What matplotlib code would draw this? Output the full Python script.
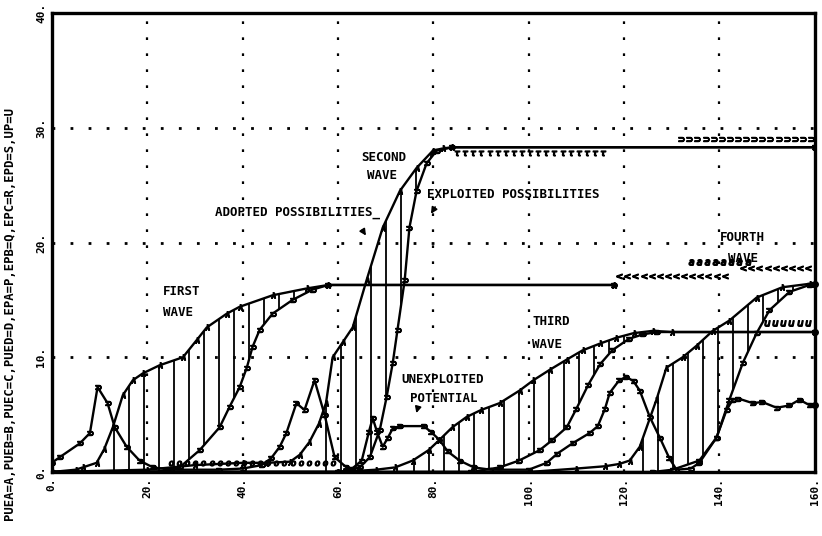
import numpy as np
import matplotlib
matplotlib.use("Agg")
import matplotlib.pyplot as plt

# time axis 0..160, value axis 0..40
# wave 1
pue_a_t = [0, 5, 6.5, 9.4, 11, 12.8, 14.9, 17, 19.1, 22.6, 27.5, 30.4, 32.5, 36.7, 39.4, 46.3, 53.5, 58, 118]
pue_a_v = [0, 0.2, 0.4, 0.8, 2.0, 3.9, 6.7, 8.0, 8.6, 9.3, 10.0, 11.5, 12.6, 13.8, 14.4, 15.4, 16.0, 16.3, 16.3]
ep_a_t = [0, 20, 24, 26.8, 31, 35.2, 37.3, 39.4, 40.9, 42.1, 43.6, 46.3, 50.5, 54.7, 58, 118]
ep_a_v = [0, 0, 0.1, 0.4, 1.9, 3.9, 5.7, 7.4, 9.1, 10.9, 12.4, 13.8, 15.0, 15.9, 16.3, 16.3]

# wave 2
pue_b_t = [0, 20, 30, 40, 45, 50, 52, 54, 56, 57.5, 58.9, 61, 63.1, 66, 69.4, 73, 76.5, 79.9, 82, 84, 160]
pue_b_v = [0, 0.2, 0.6, 0.8, 0.8, 0.9, 1.5, 2.6, 4.2, 6.0, 10.0, 11.3, 12.6, 16.7, 21.3, 24.5, 26.5, 28.0, 28.2, 28.3, 28.3]
ep_b_t = [0, 60, 63, 64.6, 66.7, 68.8, 70.2, 71.5, 72.5, 74, 75, 76.5, 78.6, 80.7, 84, 160]
ep_b_v = [0, 0, 0.2, 0.4, 1.3, 3.7, 6.5, 9.5, 12.4, 16.7, 21.3, 24.5, 26.9, 28.0, 28.3, 28.3]

# wave 3
pue_c_t = [0, 60, 68, 72, 75.7, 79, 81.3, 84, 87, 90, 93.9, 98.1, 101, 104.4, 108, 111.3, 115, 118.4, 122, 126, 130, 160]
pue_c_v = [0, 0, 0.2, 0.4, 1.0, 1.9, 2.8, 3.9, 4.8, 5.4, 6.0, 7.1, 8.0, 8.9, 9.8, 10.6, 11.2, 11.7, 12.1, 12.3, 12.2, 12.2]
ep_c_t = [0, 88, 93.9, 98, 102.3, 105, 108, 110, 112.5, 115, 117.5, 121, 124, 127, 160]
ep_c_v = [0, 0, 0.4, 1.0, 1.9, 2.8, 3.9, 5.5, 7.6, 9.4, 10.6, 11.6, 12.0, 12.2, 12.2]

# wave 4
pue_d_t = [0, 100, 110, 116, 119, 121.2, 123.3, 126.8, 128.9, 132.3, 135.2, 138.6, 142.1, 147.8, 153.2, 158.9, 160]
pue_d_v = [0, 0, 0.3, 0.5, 0.7, 1.0, 2.2, 6.3, 9.1, 10.0, 11.0, 12.3, 13.2, 15.2, 16.1, 16.4, 16.4]
ep_d_t = [0, 126, 130.2, 135.8, 139.4, 142.1, 144.9, 147.8, 150.5, 154.7, 158.9, 160]
ep_d_v = [0, 0, 0.2, 1.0, 3.0, 6.3, 9.5, 12.1, 14.1, 15.7, 16.3, 16.4]

# unexploited potential
up_t = [0, 1.7, 5.9, 8, 9.6, 11.7, 13.2, 15.7, 18.4, 21.2, 25, 35, 40, 44, 46, 47.8, 49.2, 51.3, 53, 55.1, 57.2,
        59.3, 61.8, 63, 65, 66.5, 67.3, 68.2, 69.4, 70.5, 71.5, 73, 78, 79.5, 81.3, 83, 85.5, 88.5, 92, 100,
        103.8, 106, 109.2, 112.8, 114.5, 116, 117, 119, 120.5, 122, 123.3, 125.4, 127.5, 129.5, 131, 134,
        135.8, 139.4, 141.5, 142.8, 144, 147, 149, 152, 154.7, 156.8, 159, 160]
up_v = [0.8, 1.3, 2.5, 3.4, 7.4, 6.0, 3.9, 2.2, 1.0, 0.4, 0.2, 0.2, 0.3, 0.6, 1.2, 2.2, 3.4, 6.0, 5.4, 8.0, 5.0,
        1.3, 0.4, 0.3, 1.0, 3.5, 4.7, 3.5, 2.2, 3.0, 3.8, 4.0, 4.0, 3.5, 2.8, 1.8, 1.0, 0.4, 0.2, 0.2,
        0.8, 1.6, 2.5, 3.4, 4.0, 5.5, 6.9, 8.0, 8.3, 7.9, 7.1, 4.8, 3.0, 1.2, 0.2, 0.3,
        0.8, 3.0, 5.4, 6.3, 6.4, 6.0, 6.1, 5.6, 5.8, 6.3, 5.8, 5.8]

# hatch ranges (start, end) for each wave
hatch_ranges = [(13, 57), (57.5, 83), (76, 127), (124, 158)]
hatch_step = 3.15

x_ticks = [0, 20, 40, 60, 80, 100, 120, 140, 160]
x_labels = ["0.", "20.", "40.", "60.", "80.", "100.", "120.", "140.", "160."]
y_ticks = [0, 10, 20, 30, 40]
y_labels = ["0.", "10.", "20.", "30.", "40."]

mono = "DejaVu Sans Mono"

fig = plt.figure(figsize=(8.22, 5.36), dpi=100)
ax = fig.add_axes([0.063, 0.1194, 0.9282, 0.8563])
ax.set_xlim(0, 160)
ax.set_ylim(0, 40)

# dotted grid
for gx in x_ticks[1:-1]:
    ax.axvline(gx, color="black", lw=1.6, ls=(0, (1.2, 6)), zorder=1)
for gy in y_ticks[1:-1]:
    ax.axhline(gy, color="black", lw=2.0, ls=(0, (1, 5.5)), zorder=1)

waves = [(pue_a_t, pue_a_v, ep_a_t, ep_a_v),
         (pue_b_t, pue_b_v, ep_b_t, ep_b_v),
         (pue_c_t, pue_c_v, ep_c_t, ep_c_v),
         (pue_d_t, pue_d_v, ep_d_t, ep_d_v)]

for (pt, pv, et, ev), (h0, h1) in zip(waves, hatch_ranges):
    ax.plot(pt, pv, color="black", lw=1.7, zorder=3)
    ax.plot(et, ev, color="black", lw=1.7, zorder=3)
    ax.plot(pt, pv, ls="none", marker=r"$\lambda$", ms=4, color="black", zorder=4)
    ax.plot(et, ev, ls="none", marker=r"$\supset$", ms=4, color="black", zorder=4)
    ht = np.arange(h0, h1, hatch_step)
    top = np.interp(ht, pt, pv)
    bot = np.interp(ht, et, ev)
    ax.vlines(ht, np.minimum(top, bot), np.maximum(top, bot), color="black", lw=1.3, zorder=2)

ax.plot(up_t, up_v, color="black", lw=1.7, zorder=3)
ax.plot(up_t, up_v, ls="none", marker=r"$\supset$", ms=4, color="black", zorder=4)

# character rows printed past the end of lines
row1_t = np.arange(119, 142, 1.7)
ax.plot(row1_t, np.full(len(row1_t), 17.1), ls="none", marker=r"$<$", ms=4, color="black")
row2_t = np.arange(145, 160, 1.7)
ax.plot(row2_t, np.full(len(row2_t), 17.8), ls="none", marker=r"$<$", ms=4, color="black")
row3_t = np.arange(134, 146, 1.7)
ax.plot(row3_t, np.full(len(row3_t), 18.3), ls="none", marker=r"$a$", ms=4, color="black")
row4_t = np.arange(132, 160, 1.7)
ax.plot(row4_t, np.full(len(row4_t), 29.0), ls="none", marker=r"$\supset$", ms=4, color="black")
row5_t = np.arange(85, 116, 1.7)
ax.plot(row5_t, np.full(len(row5_t), 27.8), ls="none", marker=r"$\tau$", ms=3.5, color="black")
row6_t = np.arange(150, 160, 1.7)
ax.plot(row6_t, np.full(len(row6_t), 13.0), ls="none", marker=r"$u$", ms=4, color="black")
row7_t = np.arange(25, 60, 1.7)
ax.plot(row7_t, np.full(len(row7_t), 0.8), ls="none", marker=r"$o$", ms=3.5, color="black")

# end dots on right edge
for yv in [pue_d_v[-1], pue_c_v[-1], up_v[-1]]:
    ax.plot([160], [yv], "o", color="black", ms=4, clip_on=False, zorder=5)

# annotations
tk = dict(fontfamily=mono, fontweight="bold", fontsize=9, color="black", va="center", ha="left")
ax.text(23.3, 15.7, "FIRST", **tk)
ax.text(23.3, 13.9, "WAVE", **tk)
ax.text(65.0, 27.4, "SECOND", **tk)
ax.text(66.2, 25.8, "WAVE", **tk)
ax.text(34.2, 22.6, "ADOPTED POSSIBILITIES_", **tk)
ax.text(78.6, 24.2, "EXPLOITED POSSIBILITIES", **tk)
ax.text(73.4, 8.1, "UNEXPLOITED", **tk)
ax.text(75.1, 6.4, "POTENTIAL", **tk)
ax.text(100.8, 13.1, "THIRD", **tk)
ax.text(100.8, 11.1, "WAVE", **tk)
ax.text(140.0, 20.4, "FOURTH", **tk)
ax.text(141.7, 18.6, "WAVE", **tk)

arr = dict(arrowstyle="-|>", color="black", lw=1.2, mutation_scale=9)
ax.annotate("", xy=(66.2, 20.4), xytext=(64.8, 21.3), arrowprops=arr)
ax.annotate("", xy=(79.2, 22.3), xytext=(80.7, 23.3), arrowprops=arr)
ax.annotate("", xy=(76.3, 4.9), xytext=(76.9, 5.8), arrowprops=arr)

# axes and ticks
for s in ax.spines.values():
    s.set_linewidth(2.4)
ax.set_xticks(x_ticks)
ax.set_xticklabels(x_labels, rotation=90, fontfamily=mono, fontweight="bold", fontsize=8)
ax.set_yticks(y_ticks)
ax.set_yticklabels(y_labels, rotation=90, fontfamily=mono, fontweight="bold", fontsize=8, va="center")
ax.tick_params(length=0, pad=4)

fig.text(0.012, 0.416, "PUEA=A,PUEB=B,PUEC=C,PUED=D,EPA=P,EPB=Q,EPC=R,EPD=S,UP=U",
         rotation=90, fontfamily=mono, fontweight="bold", fontsize=8.8, ha="center", va="center")

fig.savefig("out.png", dpi=100)
